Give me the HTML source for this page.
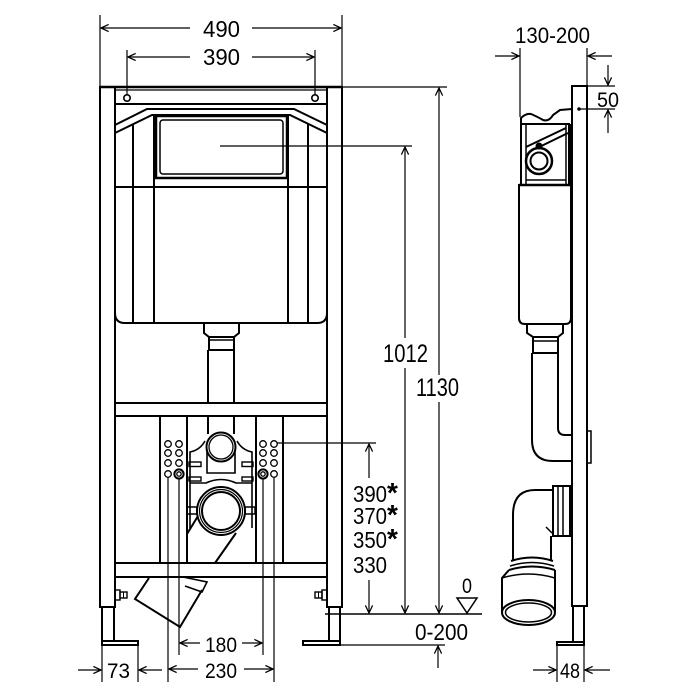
<!DOCTYPE html>
<html><head><meta charset="utf-8"><style>
html,body{margin:0;padding:0;background:#fff;}
svg{display:block}
text{font-family:"Liberation Sans",sans-serif;fill:#000}
</style></head><body>
<svg width="700" height="700" viewBox="0 0 700 700" xmlns="http://www.w3.org/2000/svg">
<defs>
<marker id="a" viewBox="0 0 10 10" refX="9.5" refY="5" markerWidth="9" markerHeight="9" markerUnits="userSpaceOnUse" orient="auto">
<path d="M1,1 L9.5,5 L1,9" fill="none" stroke="#000" stroke-width="1.4"/>
</marker>
</defs>
<rect width="700" height="700" fill="#fff"/>

<!-- FRONT VIEW STRUCTURE -->
<g fill="none" stroke="#000" stroke-width="2">
<rect x="100" y="87" width="15" height="520"/>
<rect x="327" y="87" width="15" height="520"/>
<line x1="100" y1="87" x2="342" y2="87" stroke-width="2.5"/>
<line x1="115" y1="90" x2="327" y2="90" stroke-width="1.2"/>
<line x1="115" y1="104" x2="327" y2="104"/>
<circle cx="127" cy="98" r="3.2" stroke-width="1.6"/>
<circle cx="315" cy="98" r="3.2" stroke-width="1.6"/>
<polyline points="115,125 147,109 294,109 327,125"/>
<polyline points="115,133 152,115 290,115 327,133"/>
<line x1="133" y1="124" x2="133" y2="323"/>
<line x1="154" y1="115" x2="154" y2="323"/>
<line x1="288" y1="115" x2="288" y2="323"/>
<line x1="308" y1="124" x2="308" y2="323"/>
<rect x="156" y="116" width="131" height="62" stroke-width="2.5"/>
<rect x="160" y="120" width="123" height="54" rx="3" stroke-width="1.5"/>
<line x1="115" y1="187" x2="327" y2="187"/>
<path d="M115,313 Q115,323 125,323 L317,323 Q327,323 327,313"/>
<path d="M204,324 L204,333 L209,337 L234,337 L239,333 L239,324"/>
<line x1="209" y1="340" x2="234" y2="340" stroke-width="1.5"/>
<path d="M209,337 L209,350 L234,350 L234,337"/>
<line x1="208" y1="350" x2="208" y2="403"/>
<line x1="234" y1="350" x2="234" y2="403"/>
<line x1="115" y1="403" x2="327" y2="403"/>
<line x1="115" y1="416" x2="327" y2="416"/>
<line x1="115" y1="563" x2="327" y2="563"/>
<line x1="115" y1="577" x2="327" y2="577"/>
<line x1="160" y1="416" x2="160" y2="563"/>
<line x1="187" y1="416" x2="187" y2="563"/>
<line x1="256" y1="416" x2="256" y2="563"/>
<line x1="283" y1="416" x2="283" y2="563"/>
<line x1="208" y1="416" x2="208" y2="434"/>
<line x1="234" y1="416" x2="234" y2="434"/>
<!-- bracket -->
<path d="M190,528 L190,452 Q200,450 205,441" stroke-width="1.6"/>
<path d="M252,528 L252,452 Q242,450 237,441" stroke-width="1.6"/>
<path d="M207,447 L207,473 L235,473 L235,447" stroke-width="1.6"/>
<path d="M190,483 L206,483 Q221,476 236,483 L252,483" stroke-width="1.6"/>
<rect x="189" y="462" width="12" height="4.5" stroke-width="1.4"/>
<rect x="189" y="477" width="12" height="4" stroke-width="1.4"/>
<rect x="242" y="462" width="11" height="4.5" stroke-width="1.4"/>
<rect x="242" y="477" width="11" height="4" stroke-width="1.4"/>
<circle cx="221" cy="447" r="14.5" fill="#fff"/>
<circle cx="221" cy="447" r="12" stroke-width="1.3"/>
<!-- holes -->
<g stroke-width="1.3">
<circle cx="168" cy="444" r="3.3"/><circle cx="179" cy="444" r="3.3"/>
<circle cx="168" cy="453" r="3.3"/><circle cx="179" cy="453" r="3.3"/>
<circle cx="168" cy="463" r="3.3"/><circle cx="179" cy="463" r="3.3"/>
<circle cx="168" cy="474" r="3.3"/>
<circle cx="179" cy="474" r="4.6" stroke-width="2"/><circle cx="179" cy="474" r="2.2"/>
<circle cx="263" cy="444" r="3.3"/><circle cx="274" cy="444" r="3.3"/>
<circle cx="263" cy="453" r="3.3"/><circle cx="274" cy="453" r="3.3"/>
<circle cx="263" cy="463" r="3.3"/><circle cx="274" cy="463" r="3.3"/>
<circle cx="274" cy="474" r="3.3"/>
<circle cx="263" cy="474" r="4.6" stroke-width="2"/><circle cx="263" cy="474" r="2.2"/>
</g>
<rect x="187" y="507" width="10" height="7" stroke-width="1.5"/>
<rect x="245" y="507" width="10" height="7" stroke-width="1.5"/>
<line x1="198" y1="516" x2="187" y2="534"/>
<line x1="236" y1="533" x2="215" y2="563"/>
<circle cx="221" cy="511" r="24" fill="#fff"/>
<circle cx="221" cy="511" r="21.5" stroke-width="1.2"/>
<circle cx="221" cy="511" r="19"/>
<!-- angled pipe below -->
<path d="M149,578 L135,599 L180,627 L202,590"/>
<path d="M183,577 L207,582 L202,592 L185,586" stroke-width="1.6"/>
<!-- bolts -->
<rect x="115" y="590" width="5" height="10" stroke-width="1.4"/>
<rect x="120" y="592" width="7" height="6" stroke-width="1.4"/>
<line x1="123.5" y1="592" x2="123.5" y2="598" stroke-width="1"/>
<rect x="322" y="590" width="5" height="10" stroke-width="1.4"/>
<rect x="315" y="592" width="7" height="6" stroke-width="1.4"/>
<line x1="318.5" y1="592" x2="318.5" y2="598" stroke-width="1"/>
<!-- legs -->
<line x1="102" y1="607" x2="102" y2="641"/>
<line x1="114" y1="607" x2="114" y2="641"/>
<rect x="102" y="641" width="36" height="4"/>
<line x1="329" y1="607" x2="329" y2="641"/>
<line x1="340" y1="607" x2="340" y2="641"/>
<rect x="303" y="641" width="37" height="4"/>
</g>

<!-- SIDE VIEW STRUCTURE -->
<g fill="none" stroke="#000" stroke-width="2">
<rect x="572" y="86" width="15" height="520"/>
<line x1="573" y1="606" x2="573" y2="642"/>
<line x1="584" y1="606" x2="584" y2="642"/>
<rect x="557" y="642" width="27" height="3"/>
<rect x="587" y="431" width="4" height="32" stroke-width="1.5"/>
<path d="M519,185 L519,318 Q519,324 525,324 L565,324 Q571,324 571,318 L571,185 Z"/>
<line x1="519" y1="185" x2="571" y2="185" stroke-width="2.5"/>
<path d="M521,185 L521,118 Q526,113 531,114 Q538,117 543,120 Q549,122 553,115 L560,110 L572,109"/>
<line x1="522" y1="124" x2="570" y2="124"/>
<line x1="526" y1="147" x2="566" y2="128"/>
<line x1="529" y1="152" x2="568" y2="133"/>
<line x1="526" y1="124" x2="526" y2="185" stroke-width="1.5"/>
<line x1="566" y1="124" x2="566" y2="185" stroke-width="1.5"/>
<line x1="569.5" y1="124" x2="569.5" y2="185" stroke-width="3"/>
<line x1="526" y1="180" x2="566" y2="180" stroke-width="1.5"/>
<circle cx="539" cy="161" r="13" stroke-width="2.5" fill="#fff"/>
<circle cx="539" cy="161" r="8.5"/>
<circle cx="539" cy="146" r="2.5" fill="#000"/>
<path d="M527,324 L527,333 L533,337 L558,337 L563,333 L563,324"/>
<line x1="533" y1="341" x2="558" y2="341" stroke-width="1.5"/>
<path d="M533,337 L533,353 L558,353 L558,337"/>
<path d="M532,353 L532,440 Q532,461 553,461 L571,461"/>
<path d="M558,353 L558,428 Q558,435 565,435 L571,435"/>
<!-- elbow -->
<rect x="553" y="486" width="17" height="50"/>
<line x1="558" y1="486" x2="558" y2="536" stroke-width="1.5"/>
<line x1="563" y1="486" x2="563" y2="536" stroke-width="1.5"/>
<path d="M553,490 L535,490 Q513,490 513,515 L513,561"/>
<line x1="551" y1="536" x2="551" y2="561"/>
<line x1="546" y1="527" x2="552" y2="533" stroke-width="1.5"/>
<path d="M511,561 Q532,554 553,561"/>
<path d="M510,566 Q532,559 554,566" stroke-width="1.5"/>
<path d="M509,570 Q532,563 555,570"/>
<path d="M509,570 L502,578 L502,612"/>
<path d="M555,570 L555,612"/>
<path d="M502,578 Q528,570 555,578" stroke-width="1.5"/>
<ellipse cx="528.5" cy="612.5" rx="26.5" ry="12.5"/>
<ellipse cx="528.5" cy="612.5" rx="23" ry="9.5" stroke-width="1.5"/>
</g>

<!-- DIMENSIONS -->
<g fill="none" stroke="#000" stroke-width="1.2">
<line x1="100" y1="15" x2="100" y2="87"/>
<line x1="342" y1="15" x2="342" y2="87"/>
<line x1="190" y1="28" x2="101" y2="28" marker-end="url(#a)"/>
<line x1="252" y1="28" x2="341" y2="28" marker-end="url(#a)"/>
<line x1="127" y1="50" x2="127" y2="95"/>
<line x1="315" y1="50" x2="315" y2="95"/>
<line x1="190" y1="57" x2="128" y2="57" marker-end="url(#a)"/>
<line x1="252" y1="57" x2="314" y2="57" marker-end="url(#a)"/>

<line x1="342" y1="87" x2="447" y2="87"/>
<line x1="220" y1="146" x2="412" y2="146"/>
<line x1="405" y1="338" x2="405" y2="147" marker-end="url(#a)"/>
<line x1="405" y1="368" x2="405" y2="613" marker-end="url(#a)"/>
<line x1="439" y1="375" x2="439" y2="88" marker-end="url(#a)"/>
<line x1="439" y1="402" x2="439" y2="613" marker-end="url(#a)"/>
<line x1="277" y1="443" x2="376" y2="443"/>
<line x1="369" y1="478" x2="369" y2="444" marker-end="url(#a)"/>
<line x1="369" y1="580" x2="369" y2="613" marker-end="url(#a)"/>
<line x1="325" y1="614" x2="482" y2="614" stroke-width="1.5"/>
<polygon points="457,598 477,598 467,613" stroke-width="1.5"/>
<line x1="341" y1="645" x2="445" y2="645"/>
<line x1="438" y1="668" x2="438" y2="646" marker-end="url(#a)"/>

<line x1="102" y1="645" x2="102" y2="682"/>
<line x1="138" y1="645" x2="138" y2="682"/>
<line x1="78" y1="670" x2="101" y2="670" marker-end="url(#a)"/>
<line x1="162" y1="670" x2="139" y2="670" marker-end="url(#a)"/>
<line x1="168" y1="478" x2="168" y2="682"/>
<line x1="274" y1="478" x2="274" y2="682"/>
<line x1="179" y1="479" x2="179" y2="655"/>
<line x1="263" y1="479" x2="263" y2="655"/>
<line x1="200" y1="643" x2="180" y2="643" marker-end="url(#a)"/>
<line x1="242" y1="643" x2="262" y2="643" marker-end="url(#a)"/>
<line x1="198" y1="669" x2="169" y2="669" marker-end="url(#a)"/>
<line x1="244" y1="669" x2="273" y2="669" marker-end="url(#a)"/>

<line x1="520" y1="48" x2="520" y2="117"/>
<line x1="587" y1="48" x2="587" y2="86"/>
<line x1="495" y1="56" x2="519" y2="56" marker-end="url(#a)"/>
<line x1="612" y1="56" x2="588" y2="56" marker-end="url(#a)"/>
<line x1="587" y1="86" x2="615" y2="86"/>
<line x1="579" y1="109" x2="615" y2="109"/>
<line x1="608" y1="65" x2="608" y2="85" marker-end="url(#a)"/>
<line x1="608" y1="133" x2="608" y2="110" marker-end="url(#a)"/>
<line x1="557" y1="645" x2="557" y2="682"/>
<line x1="584" y1="645" x2="584" y2="682"/>
<line x1="533" y1="670" x2="556" y2="670" marker-end="url(#a)"/>
<line x1="610" y1="670" x2="585" y2="670" marker-end="url(#a)"/>
</g>
<circle cx="579" cy="109" r="1.8" fill="#000"/>

<!-- TEXT -->
<text x="203" y="37" font-size="23" textLength="37" lengthAdjust="spacingAndGlyphs">490</text>
<text x="203" y="65" font-size="23" textLength="37" lengthAdjust="spacingAndGlyphs">390</text>
<text x="383" y="362" font-size="25" textLength="45" lengthAdjust="spacingAndGlyphs">1012</text>
<text x="416" y="396" font-size="25" textLength="43" lengthAdjust="spacingAndGlyphs">1130</text>
<text x="353" y="502" font-size="23" textLength="34" lengthAdjust="spacingAndGlyphs">390</text>
<text x="353" y="524" font-size="23" textLength="34" lengthAdjust="spacingAndGlyphs">370</text>
<text x="353" y="548" font-size="23" textLength="34" lengthAdjust="spacingAndGlyphs">350</text>
<text x="353" y="573" font-size="23" textLength="34" lengthAdjust="spacingAndGlyphs">330</text>
<text x="387" y="502" font-size="28" font-weight="bold">*</text>
<text x="387" y="524" font-size="28" font-weight="bold">*</text>
<text x="387" y="548" font-size="28" font-weight="bold">*</text>
<text x="415" y="640" font-size="23" textLength="53" lengthAdjust="spacingAndGlyphs">0-200</text>
<text x="462" y="593" font-size="21" textLength="10" lengthAdjust="spacingAndGlyphs">0</text>
<text x="515" y="43" font-size="22" textLength="75" lengthAdjust="spacingAndGlyphs">130-200</text>
<text x="597" y="107" font-size="21" textLength="22" lengthAdjust="spacingAndGlyphs">50</text>
<text x="560" y="678" font-size="21" textLength="20" lengthAdjust="spacingAndGlyphs">48</text>
<text x="107" y="678" font-size="21" textLength="23" lengthAdjust="spacingAndGlyphs">73</text>
<text x="205" y="652" font-size="21" textLength="32" lengthAdjust="spacingAndGlyphs">180</text>
<text x="205" y="678" font-size="21" textLength="32" lengthAdjust="spacingAndGlyphs">230</text>
</svg>
</body></html>
